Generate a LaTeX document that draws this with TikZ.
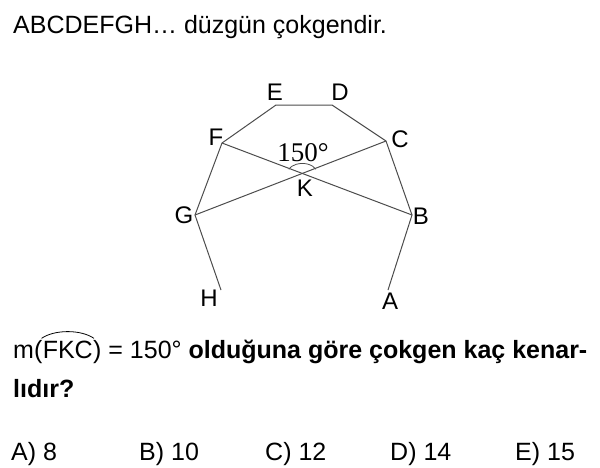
\documentclass[tikz,border=0pt]{standalone}
\usepackage{fontspec}
\setmainfont{Liberation Sans}
\newfontfamily\degfont{Liberation Serif}
\usetikzlibrary{calc}

\tikzset{
  side/.style={draw=black!70, line width=1pt},
  vlabel/.style={inner sep=0pt, font=\fontsize{24}{28}\selectfont},
  textline/.style={inner sep=0pt, anchor=base west, font=\fontsize{25}{30}\selectfont},
}

\begin{document}
\begin{tikzpicture}[x=1pt, y=-1pt]
    \useasboundingbox (0,0) rectangle (600,467);
    % Text above
    \node[textline] (head) at (13,33) {ABCDEFGH… düzgün çokgendir.};
    % Vertices
    \coordinate (A) at (388,290);
    \coordinate (B) at (412,215);
    \coordinate (C) at (386,141);
    \coordinate (D) at (332,105);
    \coordinate (E) at (276,105);
    \coordinate (F) at (222,143);
    \coordinate (G) at (195,215);
    \coordinate (H) at (221,290);
    \coordinate (K) at (intersection of F--B and G--C);
    % Polygon
    \draw[side] (H) -- (G) -- (F) -- (E) -- (D) -- (C) -- (B) -- (A);
    % Diagonals
    \draw[side] (F) -- (B);
    \draw[side] (G) -- (C);
    % Angle
    \draw[black!70, line width=0.8pt] ([shift={(25:15pt and 10pt)}]K) arc[start angle=25, end angle=155, x radius=15pt, y radius=10pt];
    \node[inner sep=0pt, font=\degfont\fontsize{27}{32}\selectfont] (ang) at (303,153) {150°};
    % Labels
    \node[vlabel] (labA) at (390,301) {A};
    \node[vlabel] (labB) at (421,216) {B};
    \node[vlabel] (labC) at (400,139) {C};
    \node[vlabel] (labD) at (340,92) {D};
    \node[vlabel] (labE) at (275,92) {E};
    \node[vlabel] (labF) at (216,137) {F};
    \node[vlabel] (labG) at (184,215) {G};
    \node[vlabel] (labH) at (209,298) {H};
    \node[vlabel] (labK) at (305,188) {K};
    % Question
    \node[textline] (mopen) at (13,358) {m(};
    \node[textline] (fkc) at (mopen.base east) {FKC};
    \node[textline] (rest) at (fkc.base east) {) = 150° \textbf{olduğuna göre çokgen kaç kenar-}};
    \draw[line width=0.8pt] ([xshift=-1pt,yshift=2pt]fkc.north west) .. controls ([xshift=12pt,yshift=11pt]fkc.north west) and ([xshift=-12pt,yshift=11pt]fkc.north east) .. ([xshift=1pt,yshift=2pt]fkc.north east);
    \node[textline] (tail) at (13,397) {\textbf{lıdır?}};
    % Choices
    \node[textline] (chA) at (11,460) {A) 8};
    \node[textline] (chB) at (139,460) {B) 10};
    \node[textline] (chC) at (265,460) {C) 12};
    \node[textline] (chD) at (390,460) {D) 14};
    \node[textline] (chE) at (515,460) {E) 15};
\end{tikzpicture}
\end{document}
